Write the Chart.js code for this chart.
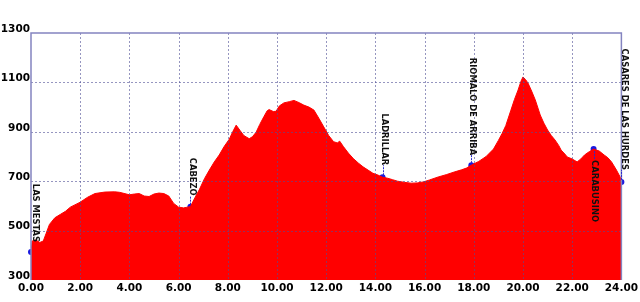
<!DOCTYPE html>
<html>
<head>
<meta charset="utf-8">
<script src="https://cdn.jsdelivr.net/npm/chart.js@4.4.1/dist/chart.umd.min.js"></script>
<style>
  html, body { margin: 0; padding: 0; background: #fff; }
  canvas { display: block; }
</style>
</head>
<body>
<canvas id="profile" width="640" height="302"></canvas>
<script>
// Profile: distance (km) and elevation (m)
const distKm = [
  0, 0.05, 0.2, 0.36, 0.5, 0.62, 0.75, 0.97, 1.2, 1.4, 1.6, 2.0, 2.3, 2.6, 3.0, 3.4, 3.6,
  4.0, 4.2, 4.4, 4.6, 4.8, 5.0, 5.2, 5.4, 5.6, 5.8, 6.0, 6.2, 6.48, 6.7, 6.84, 7.05, 7.25,
  7.45, 7.65, 7.85, 8.06, 8.2, 8.34, 8.5, 8.65, 8.87, 9.0, 9.15, 9.3, 9.47, 9.6, 9.68,
  9.85, 9.96, 10.1, 10.28, 10.5, 10.69, 10.9, 11.09, 11.3, 11.5, 11.7, 11.9, 12.1, 12.3,
  12.45, 12.55, 12.7, 12.9, 13.1, 13.3, 13.5, 13.7, 13.9, 14.1, 14.29, 14.5, 14.7, 14.9,
  15.2, 15.45, 15.7, 15.95, 16.2, 16.55, 16.9, 17.2, 17.5, 17.7, 17.9, 18.2, 18.5, 18.8,
  19.0, 19.15, 19.3, 19.5, 19.65, 19.8, 19.92, 20.0, 20.1, 20.2, 20.35, 20.5, 20.7, 20.85,
  21.0, 21.15, 21.3, 21.45, 21.55, 21.7, 21.8, 22.0, 22.2, 22.35, 22.5, 22.7, 22.87, 23.1,
  23.3, 23.45, 23.6, 23.8, 23.95, 24.0
];
const elevM = [
  413, 458, 462, 452, 458, 490, 525, 552, 566, 578, 595, 615, 635, 650, 656, 657, 655,
  645, 648, 650, 640, 638, 648, 652, 650, 640, 610, 595, 592, 597, 640, 665, 710, 745,
  778, 806, 840, 870, 900, 927, 905, 885, 872, 880, 898, 930, 962, 985, 990,
  982, 983, 1005, 1017, 1022, 1027, 1018, 1008, 1000, 988, 955, 920, 885, 860,
  855, 862, 840, 814, 792, 774, 758, 745, 732, 725, 716, 712, 706, 700,
  695, 692, 693, 697, 705, 717, 727, 737, 746, 753, 765, 780, 800, 830,
  865, 893, 925, 985, 1030, 1069, 1105, 1122, 1112, 1098, 1065, 1029, 968, 935,
  907, 885, 867, 845, 826, 810, 798, 790, 778, 790, 806, 820, 830, 822,
  806, 795, 778, 745, 717, 697
];

// Waypoints
const wpNames = ['LAS MESTAS', 'CABEZO', 'LADRILLAR', 'RIOMALO DE ARRIBA', 'CARABUSINO', 'CASARES DE LAS HURDES'];
const wpKm = [0, 6.48, 14.29, 17.9, 22.87, 24.0];
const wpElev = [413, 597, 716, 765, 830, 697];

// Axis ticks
const xTicks = [0, 2, 4, 6, 8, 10, 12, 14, 16, 18, 20, 22, 24];
const yTicks = [300, 500, 700, 900, 1100, 1300];

// label placement (pixels relative to the waypoint)
const wpLayout = [
  { dx: 4, end: -10, below: false, line: false },
  { dx: 2, end: -11, below: false, line: true },
  { dx: 2, end: -12, below: false, line: true },
  { dx: 1, end: -10, below: false, line: true },
  { dx: 1, end: 11, below: true, line: true },
  { dx: 3, end: -12, below: false, line: true }
];

const GRID = 'rgba(80, 80, 150, 0.6)';
const FRAME = '#8484c0';

// grid on top of the filled profile, plus frame and waypoint captions
const overlay = {
  id: 'overlay',
  afterDatasetDraw(chart, args) {
    if (args.index !== 0) return;
    const ctx = chart.ctx;
    const { left, right, top, bottom } = chart.chartArea;
    const x = chart.scales.x, y = chart.scales.y;
    ctx.save();
    ctx.lineWidth = 1;
    ctx.strokeStyle = GRID;
    ctx.setLineDash([2, 2]);
    xTicks.slice(1, -1).forEach(v => {
      const px = Math.round(x.getPixelForValue(v)) + 0.5;
      ctx.beginPath(); ctx.moveTo(px, top); ctx.lineTo(px, bottom); ctx.stroke();
    });
    yTicks.slice(1, -1).forEach(v => {
      const py = Math.round(y.getPixelForValue(v)) + 0.5;
      ctx.beginPath(); ctx.moveTo(left, py); ctx.lineTo(right, py); ctx.stroke();
    });
    ctx.setLineDash([]);
    ctx.strokeStyle = FRAME;
    ctx.lineWidth = 1.5;
    ctx.beginPath();
    ctx.moveTo(left, bottom); ctx.lineTo(left, top); ctx.lineTo(right, top); ctx.lineTo(right, bottom);
    ctx.stroke();
    ctx.restore();
  },
  afterDatasetsDraw(chart) {
    const ctx = chart.ctx;
    const x = chart.scales.x, y = chart.scales.y;
    ctx.save();
    ctx.font = 'bold 9.3px "Liberation Sans Narrow", "DejaVu Sans Condensed", sans-serif';
    ctx.fillStyle = '#111';
    wpNames.forEach((name, i) => {
      const px = x.getPixelForValue(wpKm[i]);
      const py = y.getPixelForValue(wpElev[i]);
      const l = wpLayout[i];
      if (l.line) {
        ctx.save();
        ctx.strokeStyle = '#2a2ad0';
        ctx.lineWidth = 1;
        ctx.setLineDash([2, 1]);
        ctx.beginPath();
        ctx.moveTo(Math.round(px) + 0.5, py + (l.below ? 2 : -2));
        ctx.lineTo(Math.round(px) + 0.5, py + l.end);
        ctx.stroke();
        ctx.restore();
      }
      ctx.save();
      ctx.translate(px + l.dx, py + l.end);
      ctx.rotate(Math.PI / 2);
      ctx.textAlign = l.below ? 'left' : 'right';
      ctx.textBaseline = 'middle';
      ctx.fillText(name, 0, 0);
      ctx.restore();
    });
    ctx.restore();
  }
};

const tickFont = { family: '"DejaVu Sans", Verdana, sans-serif', size: 10.5, weight: 'bold' };

new Chart(document.getElementById('profile'), {
  type: 'line',
  data: {
    datasets: [
      {
        data: distKm.map((d, i) => ({ x: d, y: elevM[i] })),
        borderColor: '#ff0000',
        borderWidth: 1,
        backgroundColor: '#ff0000',
        fill: 'start',
        pointRadius: 0,
        tension: 0
      },
      {
        data: wpKm.map((d, i) => ({ x: d, y: wpElev[i] })),
        showLine: false,
        clip: false,
        pointRadius: 3,
        pointBackgroundColor: '#1a1ae0',
        pointBorderColor: '#1a1ae0',
        borderWidth: 0
      }
    ]
  },
  options: {
    responsive: false,
    animation: false,
    layout: { padding: { top: 33, right: 16, left: 0, bottom: 0 } },
    plugins: { legend: { display: false }, tooltip: { enabled: false } },
    scales: {
      x: {
        type: 'linear',
        min: 0,
        max: 24,
        afterBuildTicks: s => { s.ticks = xTicks.map(v => ({ value: v })); },
        afterFit: s => { s.height = 22; },
        grid: { display: false, drawTicks: false },
        border: { display: false },
        ticks: {
          color: '#000',
          font: tickFont,
          padding: 2,
          maxRotation: 0,
          autoSkip: false,
          callback: v => v.toFixed(2)
        }
      },
      y: {
        min: 300,
        max: 1300,
        afterBuildTicks: s => { s.ticks = yTicks.map(v => ({ value: v })); },
        afterFit: s => { s.width = 31; },
        grid: { display: false, drawTicks: false },
        border: { display: false },
        ticks: {
          color: '#000',
          font: tickFont,
          padding: 1,
          labelOffset: -4,
          autoSkip: false,
          callback: v => String(v)
        }
      }
    }
  },
  plugins: [overlay]
});
</script>
</body>
</html>
